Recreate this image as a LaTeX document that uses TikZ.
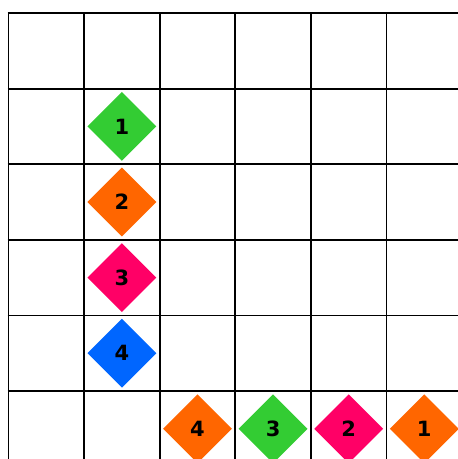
\documentclass[tikz,border=0pt]{standalone}
\usepackage{fontspec}
\setmainfont{DejaVu Sans}
\usetikzlibrary{shapes.geometric}
\definecolor{cgreen}{HTML}{33CC33}
\definecolor{corange}{HTML}{FF6600}
\definecolor{cpink}{HTML}{FF0066}
\definecolor{cblue}{HTML}{0066FF}
\tikzset{
  gridline/.style={line width=1.8pt, black},
  tile/.style={diamond, minimum width=69pt, minimum height=69pt, inner sep=0pt,
    font=\bfseries\fontsize{21}{21}\selectfont, text=black},
}
\begin{document}
\begin{tikzpicture}[x=1pt,y=-1pt]
\useasboundingbox (0,0) rectangle (458,459);
\fill[white] (0,0) rectangle (458,459);
% vertical lines
\foreach \i in {0,...,5} {
  \draw[gridline] ({8.5+75.6*\i},13) -- ({8.5+75.6*\i},460);
}
% horizontal lines
\foreach \j in {0,...,5} {
  \draw[gridline] (7.6,{13+75.6*\j}) -- (459,{13+75.6*\j});
}
\node[tile, fill=cgreen]  (a1) at (121.9,126.4) {1};
\node[tile, fill=corange] (a2) at (121.9,202.0) {2};
\node[tile, fill=cpink]   (a3) at (121.9,277.6) {3};
\node[tile, fill=cblue]   (a4) at (121.9,353.2) {4};
\node[tile, fill=corange] (b4) at (197.5,428.8) {4};
\node[tile, fill=cgreen]  (b3) at (273.1,428.8) {3};
\node[tile, fill=cpink]   (b2) at (348.7,428.8) {2};
\node[tile, fill=corange] (b1) at (424.3,428.8) {1};
\end{tikzpicture}
\end{document}
